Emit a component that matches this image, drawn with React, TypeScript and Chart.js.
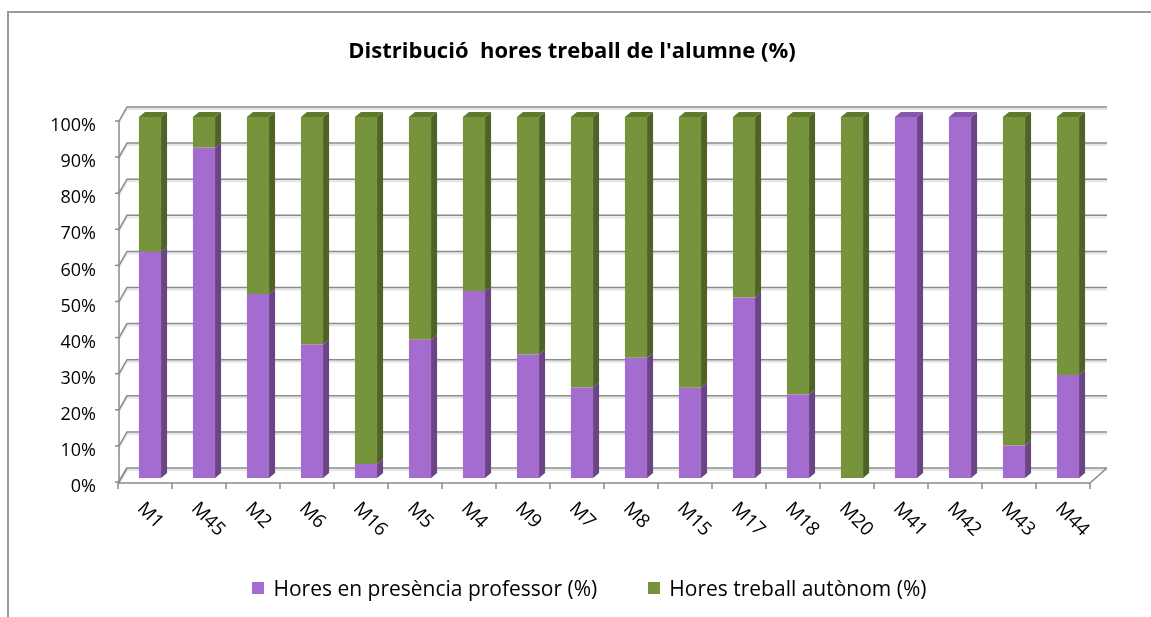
import React, { useEffect, useRef } from "react";
import { Chart, registerables } from "chart.js";

Chart.register(...registerables);

// ---- Data ----
const categories = ["M1", "M45", "M2", "M6", "M16", "M5", "M4", "M9", "M7", "M8", "M15", "M17", "M18", "M20", "M41", "M42", "M43", "M44"];
const presenciaValues = [62.7, 91.5, 51, 37, 3.9, 38.3, 51.8, 34.2, 25.1, 33.3, 25, 50, 23.1, 0, 100, 100, 9, 28.5];
const autonomValues = [37.3, 8.5, 49, 63, 96.1, 61.7, 48.2, 65.8, 74.9, 66.7, 75, 50, 76.9, 100, 0, 0, 91, 71.5];
const yTickValues = [0, 10, 20, 30, 40, 50, 60, 70, 80, 90, 100];
const seriesLabels = ["Hores en presència professor (%)", "Hores treball autònom (%)"];
const titleText = "Distribució  hores treball de l'alumne (%)";

// ---- Styles ----
const FONT = "'Open Sans', Lato, sans-serif";
const FRONT_COLORS = ["#A56CD0", "#77933C"];
const SIDE_COLORS = ["#6A4485", "#4F6228"];
const TOP_COLORS = ["#8757AB", "#5F7A2E"];
const DEPTH_X = 6;
const DEPTH_Y = -5;
const BACK_DY = -10;
const FRONT_DY = 4;

const wall3d = {
  id: "wall3d",
  beforeDatasetsDraw(chart: any) {
    const { ctx, chartArea: ca, scales } = chart;
    const x = scales.x;
    const y = scales.y;
    const step = x.getPixelForValue(1) - x.getPixelForValue(0);
    const backL = ca.left + 4;
    const backR = ca.right + 12;
    const frontL = ca.left - 4;
    const y0 = y.getPixelForValue(0);
    ctx.save();
    for (const v of yTickValues) {
      const yp = y.getPixelForValue(v);
      const yb = yp + BACK_DY;
      const yf = yp + FRONT_DY;
      ctx.beginPath();
      ctx.strokeStyle = "rgba(0,0,0,0.10)";
      ctx.lineWidth = 2;
      ctx.moveTo(frontL, yf + 2);
      ctx.lineTo(backL, yb + 2);
      ctx.lineTo(backR, yb + 2);
      ctx.stroke();
      ctx.beginPath();
      ctx.strokeStyle = "#8a8a8a";
      ctx.lineWidth = 1.5;
      ctx.moveTo(frontL, yf);
      ctx.lineTo(backL, yb);
      ctx.lineTo(backR, yb);
      ctx.stroke();
      ctx.beginPath();
      ctx.moveTo(frontL - 4, yf);
      ctx.lineTo(frontL, yf);
      ctx.stroke();
    }
    ctx.strokeStyle = "#8a8a8a";
    ctx.lineWidth = 1.5;
    ctx.beginPath();
    ctx.moveTo(frontL, y.getPixelForValue(100) + FRONT_DY);
    ctx.lineTo(frontL, y0 + FRONT_DY + 1);
    ctx.stroke();
    const fy = y0 + 5;
    const fl = x.getPixelForValue(0) - step / 2 - 5;
    const fr = x.getPixelForValue(categories.length - 1) + step / 2 - 5;
    ctx.beginPath();
    ctx.moveTo(fl, fy);
    ctx.lineTo(fr, fy);
    ctx.lineTo(backR, y0 + BACK_DY);
    ctx.stroke();
    ctx.beginPath();
    ctx.moveTo(fl, fy);
    ctx.lineTo(backL, y0 + BACK_DY);
    ctx.stroke();
    for (let i = 0; i <= categories.length; i++) {
      const tx = fl + i * step;
      ctx.beginPath();
      ctx.moveTo(tx, fy);
      ctx.lineTo(tx, fy + 6);
      ctx.stroke();
    }
    ctx.restore();
  },
  afterDatasetsDraw(chart: any) {
    const { ctx } = chart;
    const datasets = chart.data.datasets;
    ctx.save();
    datasets.forEach((ds: any, di: number) => {
      const meta = chart.getDatasetMeta(di);
      meta.data.forEach((bar: any, i: number) => {
        const p = bar.getProps(["x", "y", "base", "width"], true);
        const top = Math.min(p.y, p.base);
        const base = Math.max(p.y, p.base);
        if (base - top < 0.5) return;
        const left = p.x - p.width / 2;
        const right = p.x + p.width / 2;
        ctx.fillStyle = SIDE_COLORS[di];
        ctx.beginPath();
        ctx.moveTo(right, top);
        ctx.lineTo(right + DEPTH_X, top + DEPTH_Y);
        ctx.lineTo(right + DEPTH_X, base + DEPTH_Y);
        ctx.lineTo(right, base);
        ctx.closePath();
        ctx.fill();
        let isTop = true;
        for (let k = di + 1; k < datasets.length; k++) {
          if (datasets[k].data[i] > 0) isTop = false;
        }
        if (isTop) {
          ctx.fillStyle = TOP_COLORS[di];
          ctx.beginPath();
          ctx.moveTo(left, top);
          ctx.lineTo(left + DEPTH_X, top + DEPTH_Y);
          ctx.lineTo(right + DEPTH_X, top + DEPTH_Y);
          ctx.lineTo(right, top);
          ctx.closePath();
          ctx.fill();
        }
      });
    });
    ctx.restore();
  },
  afterDraw(chart: any) {
    const { ctx, scales } = chart;
    const x = scales.x;
    const y = scales.y;
    const ly = y.getPixelForValue(0) + 21;
    ctx.save();
    ctx.font = `19px ${FONT}`;
    ctx.fillStyle = "#000";
    ctx.textAlign = "left";
    ctx.textBaseline = "top";
    categories.forEach((c, i) => {
      const px = x.getPixelForValue(i) - 3;
      ctx.save();
      ctx.translate(px, ly);
      ctx.rotate((45 * Math.PI) / 180);
      ctx.fillText(c, 0, 0);
      ctx.restore();
    });
    ctx.restore();
  },
};

export default function App() {
  const ref = useRef<HTMLCanvasElement>(null);
  useEffect(() => {
    const chart = new Chart(ref.current as HTMLCanvasElement, {
      type: "bar",
      data: {
        labels: categories,
        datasets: [
          {
            label: seriesLabels[0],
            data: presenciaValues,
            backgroundColor: FRONT_COLORS[0],
            borderWidth: 0,
            barPercentage: 0.41,
            categoryPercentage: 1,
          },
          {
            label: seriesLabels[1],
            data: autonomValues,
            backgroundColor: FRONT_COLORS[1],
            borderWidth: 0,
            barPercentage: 0.41,
            categoryPercentage: 1,
          },
        ],
      },
      options: {
        animation: false,
        responsive: false,
        layout: { padding: { left: 49, right: 56, top: 0, bottom: 139 } },
        plugins: {
          legend: { display: false },
          tooltip: { enabled: false },
          title: {
            display: true,
            text: titleText,
            color: "#000",
            font: { family: FONT, size: 22, weight: "bold" },
            padding: { top: 39, bottom: 51.6 },
          },
        },
        scales: {
          x: {
            stacked: true,
            grid: { display: false, drawTicks: false },
            border: { display: false },
            ticks: { display: false },
            afterFit: (s: any) => {
              s.height = 0;
            },
          },
          y: {
            stacked: true,
            min: 0,
            max: 100,
            afterBuildTicks: (s: any) => {
              s.ticks = yTickValues.map((v) => ({ value: v }));
            },
            ticks: {
              callback: (v: any) => v + "%",
              color: "#000",
              font: { family: FONT, size: 18 },
              padding: 27,
              labelOffset: 9,
            },
            grid: { display: false, drawTicks: false },
            border: { display: false },
            afterFit: (s: any) => {
              s.width = 74;
            },
          },
        },
      },
      plugins: [wall3d],
    } as any);
    return () => chart.destroy();
  }, []);

  return (
    <div style={{ position: "absolute", left: 0, top: 0, width: 1151, height: 617, background: "#fff", overflow: "hidden" }}>
      <div
        style={{
          position: "absolute",
          left: 7,
          top: 11,
          width: 1200,
          height: 700,
          borderTop: "2px solid #9a9a9a",
          borderLeft: "2px solid #9a9a9a",
        }}
      />
      <canvas ref={ref} width={1151} height={617} style={{ position: "absolute", left: 0, top: 0 }} />
      <div
        style={{
          position: "absolute",
          left: 0,
          top: 576,
          width: 1151,
          paddingLeft: 28,
          boxSizing: "border-box",
          display: "flex",
          justifyContent: "center",
          alignItems: "center",
          gap: 51,
          fontFamily: FONT,
          fontSize: 21,
          color: "#000",
          lineHeight: "24px",
        }}
      >
        {seriesLabels.map((s, i) => (
          <div key={s} style={{ display: "flex", alignItems: "center" }}>
            <span style={{ display: "inline-block", width: 12, height: 12, background: FRONT_COLORS[i], marginRight: 9 }} />
            <span>{s}</span>
          </div>
        ))}
      </div>
    </div>
  );
}
